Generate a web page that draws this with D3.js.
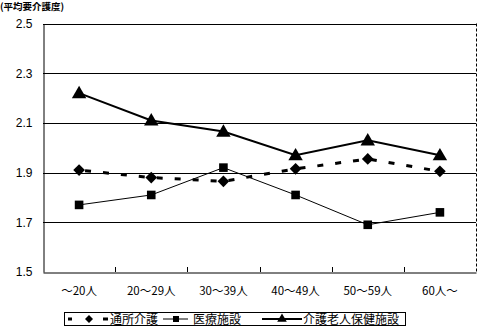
<!DOCTYPE html>
<html><head><meta charset="utf-8">
<script src="https://cdn.jsdelivr.net/npm/d3@7"></script>
<style>
body{margin:0;background:#fff;}
text{font-family:"Liberation Sans","Noto Sans CJK JP",sans-serif;fill:#000;}
.cjk{font-family:"Noto Sans CJK JP",sans-serif;}
</style></head><body>
<script>
const categories = ["～20人","20～29人","30～39人","40～49人","50～59人","60人～"];
const tsusho = [1.91,1.88,1.865,1.915,1.955,1.905];
const iryo = [1.77,1.81,1.92,1.81,1.69,1.74];
const rojin = [2.22,2.11,2.065,1.97,2.03,1.97];
const yTicks = [1.5,1.7,1.9,2.1,2.3,2.5];
const seriesNames = ["通所介護","医療施設","介護老人保健施設"];
const yTitle = "(平均要介護度)";

(function(){
const W=477,H=328;
const svg=d3.select("body").append("svg").attr("width",W).attr("height",H);
const pL=43,pR=476,pT=23.5,pB=272;
const x=d3.scaleBand().domain(categories).range([pL,pR]);
const y=d3.scaleLinear().domain([1.5,2.5]).range([pB,pT]);

svg.append("g").selectAll("line").data(yTicks.filter(d=>d>1.5)).join("line")
 .attr("x1",pL).attr("x2",pR).attr("y1",d=>Math.round(y(d))+0.5).attr("y2",d=>Math.round(y(d))+0.5)
 .attr("stroke","#000").attr("stroke-width",1);
svg.append("line").attr("x1",pR+0.5).attr("x2",pR+0.5).attr("y1",pT).attr("y2",pB)
 .attr("stroke","#000").attr("stroke-dasharray","3,2");

const ya=svg.append("g").attr("transform",`translate(${pL+0.5},0)`)
 .call(d3.axisLeft(y).tickValues(yTicks).tickFormat(d3.format(".1f")).tickSize(0).tickPadding(11));
ya.select(".domain").attr("stroke","#000");
ya.selectAll("text").attr("font-size",12).attr("font-family","Liberation Sans, sans-serif");

const xa=svg.append("g").attr("transform",`translate(0,${Math.round(pB)+0.5})`)
 .call(d3.axisBottom(x).tickSize(0).tickPadding(14));
xa.select(".domain").attr("stroke","#000");
xa.selectAll("text").attr("font-size",11.5).attr("class","cjk");
svg.append("g").selectAll("line").data(categories.slice(1)).join("line")
 .attr("x1",d=>Math.round(x(d))+0.5).attr("x2",d=>Math.round(x(d))+0.5)
 .attr("y1",pB).attr("y2",pB-5).attr("stroke","#000");

svg.append("text").attr("x",0).attr("y",10).attr("font-size",9.5).attr("font-weight","bold").attr("class","cjk").text(yTitle);

const cx=d=>x(d)+x.bandwidth()/2;
const line=d3.line().x(d=>cx(d[0])).y(d=>y(d[1]));
const z=(arr)=>categories.map((c,i)=>[c,arr[i]]);

svg.append("path").attr("d",line(z(tsusho))).attr("fill","none").attr("stroke","#000").attr("stroke-width",3).attr("stroke-dasharray","6,12").attr("stroke-dashoffset",-6);
svg.append("path").attr("d",line(z(iryo))).attr("fill","none").attr("stroke","#000").attr("stroke-width",1);
svg.append("path").attr("d",line(z(rojin))).attr("fill","none").attr("stroke","#000").attr("stroke-width",2);

svg.append("g").selectAll("path").data(z(tsusho)).join("path")
 .attr("transform",d=>`translate(${cx(d[0])},${y(d[1])}) rotate(45)`).attr("d",d3.symbol().type(d3.symbolSquare).size(68)());
svg.append("g").selectAll("path").data(z(iryo)).join("path")
 .attr("transform",d=>`translate(${cx(d[0])},${y(d[1])})`).attr("d",d3.symbol().type(d3.symbolSquare).size(74)());
svg.append("g").selectAll("path").data(z(rojin)).join("path")
 .attr("transform",d=>`translate(${cx(d[0])},${y(d[1])+1})`).attr("d",d3.symbol().type(d3.symbolTriangle).size(90)());

const lg=svg.append("g");
lg.append("rect").attr("x",64.5).attr("y",312.5).attr("width",341).attr("height",13).attr("fill","#fff").attr("stroke","#000");
const ly=319;
lg.append("line").attr("x1",68).attr("x2",72).attr("y1",ly).attr("y2",ly).attr("stroke","#000").attr("stroke-width",3);
lg.append("line").attr("x1",103).attr("x2",108).attr("y1",ly).attr("y2",ly).attr("stroke","#000").attr("stroke-width",3);
lg.append("path").attr("transform",`translate(89,${ly}) rotate(45)`).attr("d",d3.symbol().type(d3.symbolSquare).size(32)());
lg.append("line").attr("x1",163).attr("x2",188).attr("y1",ly).attr("y2",ly).attr("stroke","#000").attr("stroke-width",1);
lg.append("path").attr("transform",`translate(176,${ly})`).attr("d",d3.symbol().type(d3.symbolSquare).size(36)());
lg.append("line").attr("x1",262).attr("x2",302).attr("y1",ly).attr("y2",ly).attr("stroke","#000").attr("stroke-width",2);
lg.append("path").attr("transform",`translate(282,${ly})`).attr("d",d3.symbol().type(d3.symbolTriangle).size(40)());
const lx=[110,193,303];
seriesNames.forEach((n,i)=>lg.append("text").attr("x",lx[i]).attr("y",ly+4.5).attr("font-size",12).attr("class","cjk").text(n));
})();
</script></body></html>
